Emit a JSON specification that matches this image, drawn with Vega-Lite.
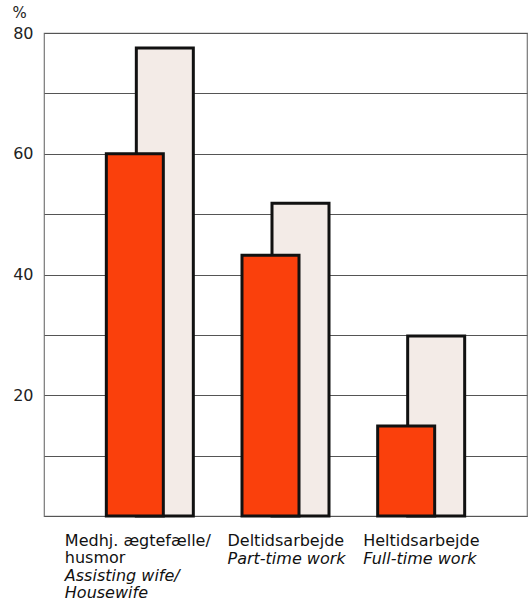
{
  "$schema": "https://vega.github.io/schema/vega-lite/v6.json",
  "width": 483,
  "height": 483,
  "autosize": {"type": "none"},
  "padding": {"left": 44, "top": 33, "right": 4, "bottom": 88},
  "background": "white",
  "config": {
    "view": {"stroke": "#777", "strokeWidth": 1.2},
    "font": "DejaVu Sans"
  },
  "datasets": {
    "bars": [
      {"group": "g1", "series": "light", "value": 77.5},
      {"group": "g2", "series": "light", "value": 51.8},
      {"group": "g3", "series": "light", "value": 29.8},
      {"group": "g1", "series": "red", "value": 60},
      {"group": "g2", "series": "red", "value": 43.2},
      {"group": "g3", "series": "red", "value": 14.9}
    ],
    "labels": [
      {"group": "g1", "da": "Medhj. ægtefælle/\nhusmor", "en": "Assisting wife/\nHousewife"},
      {"group": "g2", "da": "Deltidsarbejde", "en": "Part-time work"},
      {"group": "g3", "da": "Heltidsarbejde", "en": "Full-time work"}
    ]
  },
  "layer": [
    {
      "data": {"name": "bars"},
      "transform": [{"filter": "datum.series === 'light'"}],
      "mark": {"type": "bar", "width": 57, "xOffset": 15, "fill": "#f3ebe7", "stroke": "#111", "strokeWidth": 3},
      "encoding": {
        "x": {"field": "group", "type": "nominal", "scale": {"domain": ["g1", "g2", "g3"], "paddingInner": 0, "paddingOuter": 0.28}, "axis": null},
        "y": {
          "field": "value", "type": "quantitative",
          "scale": {"domain": [0, 80], "nice": false},
          "axis": {
            "values": [0, 10, 20, 30, 40, 50, 60, 70, 80],
            "grid": true, "gridColor": "#555", "gridWidth": 1.2,
            "ticks": false, "domain": false,
            "labelExpr": "datum.value > 0 && datum.value % 20 === 0 ? datum.label : ''",
            "labelFontSize": 16, "labelColor": "#222", "labelPadding": 11, "labelFont": "DejaVu Sans",
            "title": "%", "titleAngle": 0, "titleX": -32, "titleY": -16, "titleFontSize": 15,
            "titleFontWeight": "normal", "titleColor": "#222", "titleFont": "DejaVu Sans", "titleAlign": "left", "titleBaseline": "alphabetic"
          }
        }
      }
    },
    {
      "data": {"name": "bars"},
      "transform": [{"filter": "datum.series === 'red'"}],
      "mark": {"type": "bar", "width": 57, "xOffset": -15, "fill": "#fa400c", "stroke": "#111", "strokeWidth": 3},
      "encoding": {
        "x": {"field": "group", "type": "nominal"},
        "y": {"field": "value", "type": "quantitative"}
      }
    },
    {
      "data": {"name": "labels"},
      "transform": [{"filter": "datum.group === 'g1'"}],
      "mark": {"type": "text", "align": "left", "baseline": "alphabetic", "dx": -85, "dy": 30, "fontSize": 16, "lineBreak": "\n", "lineHeight": 17, "color": "#111"},
      "encoding": {
        "x": {"field": "group", "type": "nominal"},
        "y": {"datum": 0},
        "text": {"field": "da"}
      }
    },
    {
      "data": {"name": "labels"},
      "transform": [{"filter": "datum.group === 'g1'"}],
      "mark": {"type": "text", "align": "left", "baseline": "alphabetic", "dx": -85, "dy": 65, "fontSize": 16, "fontStyle": "italic", "lineBreak": "\n", "lineHeight": 17, "color": "#111"},
      "encoding": {
        "x": {"field": "group", "type": "nominal"},
        "y": {"datum": 0},
        "text": {"field": "en"}
      }
    },
    {
      "data": {"name": "labels"},
      "transform": [{"filter": "datum.group !== 'g1'"}],
      "mark": {"type": "text", "align": "left", "baseline": "alphabetic", "dx": -58, "dy": 30, "fontSize": 16, "color": "#111"},
      "encoding": {
        "x": {"field": "group", "type": "nominal"},
        "y": {"datum": 0},
        "text": {"field": "da"}
      }
    },
    {
      "data": {"name": "labels"},
      "transform": [{"filter": "datum.group !== 'g1'"}],
      "mark": {"type": "text", "align": "left", "baseline": "alphabetic", "dx": -58, "dy": 48, "fontSize": 16, "fontStyle": "italic", "color": "#111"},
      "encoding": {
        "x": {"field": "group", "type": "nominal"},
        "y": {"datum": 0},
        "text": {"field": "en"}
      }
    }
  ]
}
